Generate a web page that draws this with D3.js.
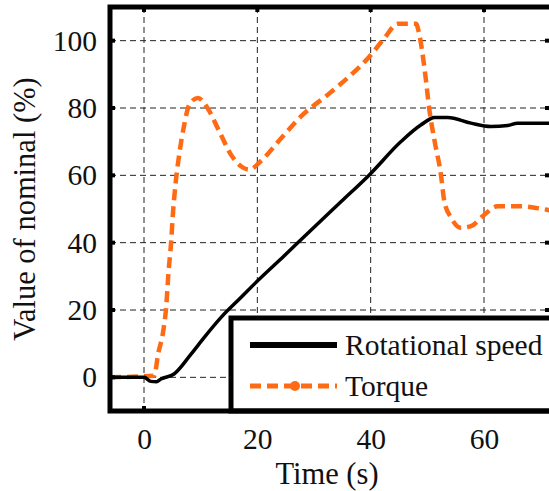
<!DOCTYPE html>
<html>
<head>
<meta charset="utf-8">
<script src="https://cdn.jsdelivr.net/npm/d3@7"></script>
<style>
  body { margin: 0; background: #fff; }
  text { font-family: "Liberation Serif", "Times New Roman", serif; fill: #111; }
</style>
</head>
<body>
<div id="chart"></div>
<script>
// Rotational speed (black solid)
const speedTime = [-6, 0, 1.2, 2.2, 3, 5.3, 8.3, 10.6, 13.6, 17.1, 20, 24.8, 28.9, 34.8, 39.8, 45.4, 48.9, 51.3, 53.6, 57.7, 61.2, 64.2, 65.9, 72];
const speedValue = [0, 0, -1.2, -1.3, -0.5, 1, 6.9, 11.8, 17.8, 23.7, 28.6, 36.2, 42.8, 52.2, 60.2, 70.1, 75, 77.2, 77.2, 75.5, 74.5, 74.8, 75.5, 75.5];

// Torque (orange dashed)
const torqueTime = [-6, 1.8, 2.5, 3.4, 3.9, 4.3, 4.8, 5.1, 5.6, 6.2, 7.1, 8, 9.5, 11.2, 13.3, 15.4, 17.1, 18.6, 20.6, 24.2, 27.7, 32.4, 36.5, 39.8, 42.4, 44.8, 48, 48.6, 49.5, 50.4, 51.3, 52.4, 53, 54.2, 55.9, 57.7, 59.8, 62.4, 66.5, 69.2, 72];
const torqueValue = [0, 0.5, 7, 13.8, 20.6, 30.7, 40.5, 48.5, 58, 66, 75, 81, 83, 80, 73, 66, 62.7, 61.7, 64.2, 71, 77.5, 83.9, 89.8, 95.3, 100.7, 105, 105, 101.7, 91.8, 79, 70, 60.2, 52.3, 47.4, 44.4, 44.9, 47.9, 50.8, 50.8, 50.3, 49.5];

const xTicks = [0, 20, 40, 60];
const yTicks = [0, 20, 40, 60, 80, 100];
const seriesNames = ["Rotational speed", "Torque"];

const W = 549, H = 491;
const margin = { top: 7, right: -3, bottom: 80, left: 110 };
const width = W - margin.left - margin.right;
const height = H - margin.top - margin.bottom;

const svg = d3.select("#chart").append("svg")
    .attr("width", W)
    .attr("height", H);

const g = svg.append("g")
    .attr("transform", `translate(${margin.left},${margin.top})`);

const x = d3.scaleLinear().domain([-6, 72]).range([0, width]);
const y = d3.scaleLinear().domain([-10, 110]).range([height, 0]);

g.append("clipPath").attr("id", "clip")
    .append("rect").attr("width", width).attr("height", height);

// Grid
const grid = g.append("g").attr("class", "grid");
grid.selectAll("line.vx").data(xTicks).enter().append("line")
    .attr("x1", d => x(d)).attr("x2", d => x(d))
    .attr("y1", 0).attr("y2", height)
    .attr("stroke", "#222").attr("stroke-width", 1).attr("stroke-dasharray", "6,4");
grid.selectAll("line.hy").data(yTicks).enter().append("line")
    .attr("y1", d => y(d)).attr("y2", d => y(d))
    .attr("x1", 0).attr("x2", width)
    .attr("stroke", "#222").attr("stroke-width", 1).attr("stroke-dasharray", "6,4");

// Axes (labels only, frame drawn separately)
const xAxis = d3.axisBottom(x).tickValues(xTicks).tickSize(0).tickPadding(17);
const yAxis = d3.axisLeft(y).tickValues(yTicks).tickSize(0).tickPadding(13);

g.append("g").attr("transform", `translate(0,${height})`).call(xAxis)
    .call(s => s.select(".domain").remove())
    .selectAll("text").style("font-size", "29.5px").attr("fill", "#111");
g.append("g").call(yAxis)
    .call(s => s.select(".domain").remove())
    .selectAll("text").style("font-size", "29.5px").attr("fill", "#111");

// Lines
const lineGen = d3.line().curve(d3.curveMonotoneX).x(d => x(d[0])).y(d => y(d[1]));
const speedData = d3.zip(speedTime, speedValue);
const torqueData = d3.zip(torqueTime, torqueValue);

const plot = g.append("g").attr("clip-path", "url(#clip)");
plot.append("path").datum(torqueData)
    .attr("d", lineGen)
    .attr("fill", "none")
    .attr("stroke", "#ff6a14")
    .attr("stroke-width", 4.5)
    .attr("stroke-dasharray", "11,6");
plot.append("path").datum(speedData)
    .attr("d", lineGen)
    .attr("fill", "none")
    .attr("stroke", "#000")
    .attr("stroke-width", 3.5);

// Small inner ticks
const tk = g.append("g");
tk.selectAll("line.tt").data(xTicks).enter().append("line")
    .attr("x1", d => x(d)).attr("x2", d => x(d)).attr("y1", 0).attr("y2", 5)
    .attr("stroke", "#000").attr("stroke-width", 4);
tk.selectAll("line.tb").data(xTicks).enter().append("line")
    .attr("x1", d => x(d)).attr("x2", d => x(d)).attr("y1", height).attr("y2", height - 5)
    .attr("stroke", "#000").attr("stroke-width", 4);
tk.selectAll("line.tl").data(yTicks).enter().append("line")
    .attr("y1", d => y(d)).attr("y2", d => y(d)).attr("x1", 0).attr("x2", 5)
    .attr("stroke", "#000").attr("stroke-width", 4);
tk.selectAll("line.tr").data(yTicks).enter().append("line")
    .attr("y1", d => y(d)).attr("y2", d => y(d)).attr("x1", width).attr("x2", width - 7)
    .attr("stroke", "#000").attr("stroke-width", 4);

// Legend
const legend = g.append("g").attr("transform", `translate(${231 - margin.left},${318 - margin.top})`);
legend.append("rect")
    .attr("x", 0).attr("y", 0)
    .attr("width", width).attr("height", height - (318 - margin.top))
    .attr("fill", "#fff").attr("stroke", "#000").attr("stroke-width", 5);
legend.append("line")
    .attr("x1", 19).attr("x2", 106).attr("y1", 27).attr("y2", 27)
    .attr("stroke", "#000").attr("stroke-width", 6);
legend.append("line")
    .attr("x1", 19).attr("x2", 106).attr("y1", 68).attr("y2", 68)
    .attr("stroke", "#ff6a14").attr("stroke-width", 5).attr("stroke-dasharray", "11,6");
legend.append("circle")
    .attr("cx", 64).attr("cy", 68).attr("r", 5).attr("fill", "#ff6a14");
legend.selectAll("text.lg").data(seriesNames).enter().append("text")
    .attr("x", 114)
    .attr("y", (d, i) => 37 + i * 41)
    .style("font-size", "29.5px")
    .text(d => d);

// Frame
g.append("rect")
    .attr("x", 0).attr("y", 0).attr("width", width).attr("height", height)
    .attr("fill", "none").attr("stroke", "#000").attr("stroke-width", 5);

// Axis titles
svg.append("text")
    .attr("x", 327).attr("y", 484)
    .attr("text-anchor", "middle")
    .style("font-size", "30.5px")
    .text("Time (s)");
svg.append("text")
    .attr("transform", "rotate(-90)")
    .attr("x", -(margin.top + height / 2)).attr("y", 35)
    .attr("text-anchor", "middle")
    .style("font-size", "30.5px")
    .text("Value of nominal (%)");
</script>
</body>
</html>
